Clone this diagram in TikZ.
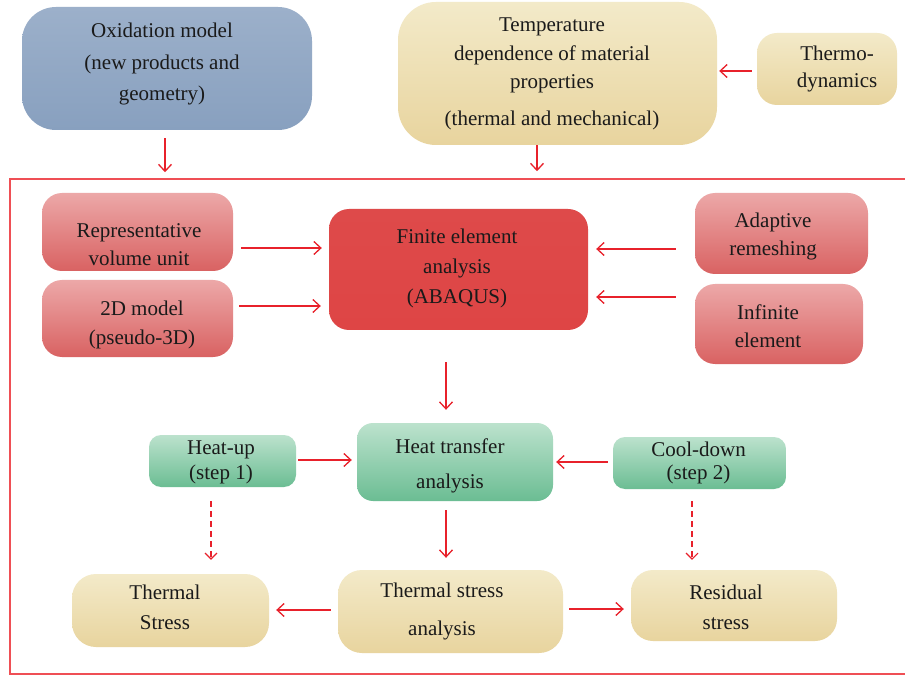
\documentclass[tikz,border=0pt]{standalone}
\usepackage{fontspec}
\setmainfont{Liberation Serif}
\usetikzlibrary{arrows.meta,calc}
\definecolor{arred}{HTML}{E8212B}
\definecolor{framered}{HTML}{EF4F55}
\definecolor{txtc}{HTML}{1A1A1A}
\tikzset{
  box/.style={inner sep=0pt, shading=axis, draw=none},
  bluebox/.style={box, top color=blue1, middle color=blue2, bottom color=blue3},
  beigebox/.style={box, top color=beige1, bottom color=beige2},
  pinkbox/.style={box, top color=pink1, middle color=pink2, bottom color=pink3},
  redbox/.style={box, top color=red1, middle color=red2, bottom color=red3},
  greenbox/.style={box, top color=green1, bottom color=green2},
  txt/.style={align=center, inner sep=0pt, text=txtc},
  arr/.style={draw=arred, line width=1.6pt, -{Straight Barb[length=7pt,width=13pt,line width=1.3pt]}},
  darr/.style={draw=arred, line width=1.2pt, dash pattern=on 6pt off 4pt, -{Straight Barb[length=6pt,width=12pt,line width=1.1pt]}},
}
\definecolor{blue1}{HTML}{9CB0CA}
\definecolor{blue2}{HTML}{A8BAD0}
\definecolor{blue3}{HTML}{88A0BF}
\definecolor{beige1}{HTML}{F3EAC9}
\definecolor{beige2}{HTML}{E8D49E}
\definecolor{pink1}{HTML}{ECA8A8}
\definecolor{pink2}{HTML}{E48C8C}
\definecolor{pink3}{HTML}{D96262}
\definecolor{red1}{HTML}{DE4A4A}
\definecolor{red2}{HTML}{DA3636}
\definecolor{red3}{HTML}{DE4545}
\definecolor{green1}{HTML}{BCE2CD}
\definecolor{green2}{HTML}{6BBD93}
\begin{document}
\begin{tikzpicture}[x=1pt,y=-1pt]
\useasboundingbox (0,0) rectangle (905,676);
\fill[white] (0,0) rectangle (905,676);

% frame
\node[draw=framered, line width=1.5pt, minimum width=905pt, minimum height=495pt, inner sep=0pt] (frame) at (462.5,426.5) {};

% boxes
\node[bluebox, rounded corners=34pt, minimum width=290pt, minimum height=123pt] (ox) at (167,68.5) {};
\node[beigebox, rounded corners=38pt, minimum width=319pt, minimum height=143pt] (temp) at (557.5,73.5) {};
\node[beigebox, rounded corners=20pt, minimum width=140pt, minimum height=72pt] (thermo) at (827,69) {};

\node[pinkbox, rounded corners=20pt, minimum width=191pt, minimum height=78pt] (rvu) at (137.5,232) {};
\node[pinkbox, rounded corners=20pt, minimum width=191pt, minimum height=77pt] (twod) at (137.5,318.5) {};
\node[redbox, rounded corners=20pt, minimum width=259pt, minimum height=121pt] (fea) at (458.5,269.5) {};
\node[pinkbox, rounded corners=20pt, minimum width=173pt, minimum height=81pt] (adapt) at (781.5,233.5) {};
\node[pinkbox, rounded corners=20pt, minimum width=168pt, minimum height=80pt] (inf) at (779,324) {};

\node[greenbox, rounded corners=16pt, minimum width=196pt, minimum height=78pt] (ht) at (455,462) {};
\node[greenbox, rounded corners=12pt, minimum width=147pt, minimum height=52pt] (heat) at (222.5,461) {};
\node[greenbox, rounded corners=12pt, minimum width=173pt, minimum height=52pt] (cool) at (699.5,463) {};

\node[beigebox, rounded corners=24pt, minimum width=197pt, minimum height=73pt] (ts) at (170.5,610.5) {};
\node[beigebox, rounded corners=24pt, minimum width=225pt, minimum height=83pt] (tsa) at (450.5,611.5) {};
\node[beigebox, rounded corners=22pt, minimum width=206pt, minimum height=71pt] (res) at (734,605.5) {};

% texts
\node[txt, font=\fontsize{21}{31.5}\selectfont] (oxt) at (162,64) {Oxidation model\\(new products and\\geometry)};
\node[txt, font=\fontsize{21}{28.5}\selectfont] (tempt) at (552,74) {Temperature\\dependence of material\\properties\\[8.5pt](thermal and mechanical)};
\node[txt, font=\fontsize{21}{27}\selectfont] (thermot) at (837,69) {Thermo-\\dynamics};
\node[txt, font=\fontsize{21}{28}\selectfont] (rvut) at (139,244.5) {Representative\\volume unit};
\node[txt, font=\fontsize{21}{29.5}\selectfont] (twodt) at (142,325) {2D model\\(pseudo-3D)};
\node[txt, font=\fontsize{21}{30}\selectfont] (feat) at (457,268.5) {Finite element\\analysis\\(ABAQUS)};
\node[txt, font=\fontsize{21}{28}\selectfont] (adaptt) at (773,236.5) {Adaptive\\remeshing};
\node[txt, font=\fontsize{21}{28}\selectfont] (inft) at (768,326.5) {Infinite\\element};
\node[txt, font=\fontsize{21}{35}\selectfont] (htt) at (450,466) {Heat transfer\\analysis};
\node[txt, font=\fontsize{21}{25}\selectfont] (heatt) at (221,462) {Heat-up\\(step 1)};
\node[txt, font=\fontsize{21}{23.5}\selectfont] (coolt) at (698.5,463) {Cool-down\\(step 2)};
\node[txt, font=\fontsize{21}{30}\selectfont] (tst) at (165,607.5) {Thermal\\Stress};
\node[txt, font=\fontsize{21}{38}\selectfont] (tsat) at (442,611.5) {Thermal stress\\analysis};
\node[txt, font=\fontsize{21}{30}\selectfont] (rest) at (726,607.5) {Residual\\stress};

% connectors
\draw[arr] ([shift={(-2,8)}]ox.south) -- ([shift={(-2,-6)}]ox.south |- frame.north);
\draw[arr] ([shift={(-20.5,0)}]temp.south) -- ([shift={(-20.5,-7)}]temp.south |- frame.north);
\draw[arr] ([shift={(-5,2)}]thermo.west) -- ([shift={(2,-2.5)}]temp.east);

\draw[arr] ([shift={(8,16)}]rvu.east) -- ([shift={(-7,-21.5)}]fea.west);
\draw[arr] ([shift={(6,-12.5)}]twod.east) -- ([shift={(-8,36.5)}]fea.west);
\draw[arr] ([shift={(-19,15.5)}]adapt.west) -- ([shift={(8,-20.5)}]fea.east);
\draw[arr] ([shift={(-19,-27)}]inf.west) -- ([shift={(8,27.5)}]fea.east);

\draw[arr] ([shift={(-12.5,32)}]fea.south) -- ([shift={(-9,-13)}]ht.north);
\draw[arr] ([shift={(2,-1)}]heat.east) -- ([shift={(-5,-2)}]ht.west);
\draw[arr] ([shift={(-5,-1)}]cool.west) -- ([shift={(3,0)}]ht.east);

\draw[darr] ([shift={(-11.5,14)}]heat.south) -- ([shift={(40.5,-14)}]ts.north);
\draw[darr] ([shift={(-7.5,12)}]cool.south) -- ([shift={(-42,-10)}]res.north);

\draw[arr] ([shift={(-9,9)}]ht.south) -- ([shift={(-4.5,-12)}]tsa.north);
\draw[arr] ([shift={(-7,-1.5)}]tsa.west) -- ([shift={(7,-0.5)}]ts.east);
\draw[arr] ([shift={(6,-2.5)}]tsa.east) -- ([shift={(-7,3.5)}]res.west);
\end{tikzpicture}
\end{document}
